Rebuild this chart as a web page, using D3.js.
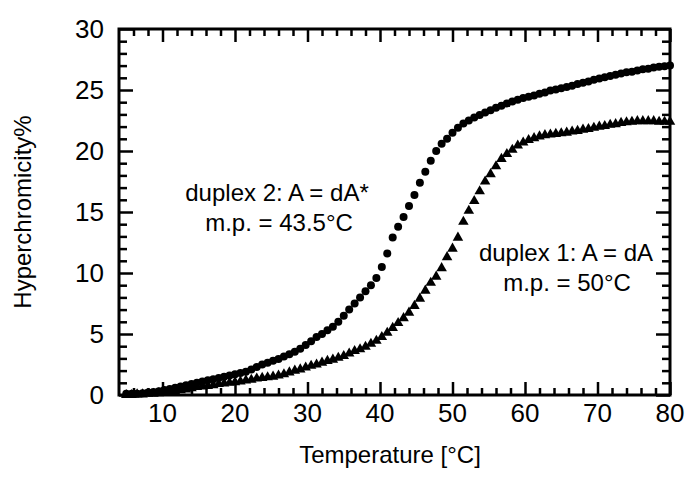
<html lang="en">

<head>
    <meta charset="UTF-8">
    <title>Hyperchromicity vs Temperature</title>
    <!-- Load d3.js -->
    <script src="https://d3js.org/d3.v7.min.js"></script>
    <style>
        body { margin: 0; background: #fff; }
        text { font-family: "Liberation Sans", Arial, Helvetica, sans-serif; fill: #000; }
    </style>
</head>

<body>
    <div id="my_dataviz"></div>

    <script>

        // temperatures (°C) at which both duplexes were sampled
        const temps = [5, 5.75, 6.5, 7.25, 8, 8.75, 9.5, 10.25, 11, 11.75, 12.5, 13.25, 14, 14.75, 15.5, 16.25, 17, 17.75, 18.5, 19.25,
            20, 20.75, 21.5, 22.25, 23, 23.75, 24.5, 25.25, 26, 26.75, 27.5, 28.25, 29, 29.75, 30.5, 31.25, 32, 32.75, 33.5, 34.25,
            35, 35.75, 36.5, 37.25, 38, 38.75, 39.5, 40.25, 41, 41.75, 42.5, 43.25, 44, 44.75, 45.5, 46.25, 47, 47.75, 48.5, 49.25,
            50, 50.75, 51.5, 52.25, 53, 53.75, 54.5, 55.25, 56, 56.75, 57.5, 58.25, 59, 59.75, 60.5, 61.25, 62, 62.75, 63.5, 64.25,
            65, 65.75, 66.5, 67.25, 68, 68.75, 69.5, 70.25, 71, 71.75, 72.5, 73.25, 74, 74.75, 75.5, 76.25, 77, 77.75, 78.5, 79.25, 80];

        // duplex 2 (A = dA*), circles
        const duplex2 = [0.1, 0.1, 0.1, 0.15, 0.2, 0.25, 0.3, 0.4, 0.5, 0.6, 0.7, 0.8, 0.9, 1.0, 1.1, 1.2, 1.3, 1.4, 1.5, 1.6,
            1.7, 1.8, 1.9, 2.1, 2.3, 2.5, 2.65, 2.8, 2.95, 3.15, 3.35, 3.55, 3.8, 4.1, 4.4, 4.75, 5.0, 5.3, 5.6, 6.0,
            6.5, 7.0, 7.5, 8.0, 8.5, 9.0, 9.6, 10.5, 11.6, 12.9, 13.8, 14.6, 15.5, 16.4, 17.4, 18.3, 19.2, 20.0, 20.6, 21.0,
            21.5, 21.9, 22.25, 22.5, 22.75, 22.95, 23.15, 23.35, 23.55, 23.7, 23.9, 24.05, 24.2, 24.35, 24.45, 24.55, 24.7, 24.8, 24.95, 25.05,
            25.15, 25.25, 25.35, 25.5, 25.6, 25.7, 25.85, 25.95, 26.05, 26.15, 26.25, 26.35, 26.45, 26.5, 26.6, 26.7, 26.75, 26.85, 26.9, 26.95, 27.0];

        // duplex 1 (A = dA), triangles
        const duplex1 = [0.0, 0.0, 0.05, 0.05, 0.1, 0.1, 0.15, 0.2, 0.25, 0.3, 0.4, 0.45, 0.55, 0.65, 0.7, 0.75, 0.8, 0.9, 0.95, 1.0,
            1.05, 1.1, 1.2, 1.25, 1.35, 1.4, 1.45, 1.5, 1.6, 1.7, 1.85, 2.0, 2.1, 2.25, 2.4, 2.5, 2.65, 2.8, 2.9, 3.05,
            3.2, 3.4, 3.6, 3.75, 3.95, 4.2, 4.45, 4.75, 5.1, 5.5, 5.9, 6.3, 6.75, 7.3, 7.9, 8.55, 9.2, 9.7, 10.4, 11.3,
            12.0, 12.9, 14.2, 15.1, 15.9, 16.7, 17.5, 18.1, 18.75, 19.35, 19.75, 20.1, 20.45, 20.7, 20.9, 21.05, 21.2, 21.3, 21.35, 21.4,
            21.45, 21.5, 21.6, 21.65, 21.75, 21.8, 21.9, 22.0, 22.05, 22.15, 22.2, 22.3, 22.35, 22.4, 22.45, 22.45, 22.45, 22.45, 22.4, 22.4, 22.4];

        // tick labels
        const xTickLabels = [10, 20, 30, 40, 50, 60, 70, 80];
        const yTickLabels = [0, 5, 10, 15, 20, 25, 30];

        // plot box in page pixels
        const boxLeft = 119, boxRight = 670, boxTop = 29, boxBottom = 395;

        const svg = d3.select("#my_dataviz")
            .append("svg")
            .attr("width", 686)
            .attr("height", 478);

        const x = d3.scaleLinear().domain([4, 80]).range([boxLeft, boxRight]);
        const y = d3.scaleLinear().domain([0, 30]).range([boxBottom, boxTop]);

        // inward ticks on all four sides
        const xMinor = d3.range(6, 80, 2).filter(function (d) { return d % 10 !== 0; });
        const yMinor = d3.range(1, 30, 1).filter(function (d) { return d % 5 !== 0; });

        function tickAxis(axisFn, scale, values, size) {
            return axisFn(scale).tickValues(values).tickSize(size).tickFormat("");
        }

        const axes = [
            [d3.axisBottom, x, xTickLabels, -13, boxBottom, "x"],
            [d3.axisBottom, x, xMinor, -7, boxBottom, "x"],
            [d3.axisTop, x, xTickLabels, -13, boxTop, "x"],
            [d3.axisTop, x, xMinor, -7, boxTop, "x"],
            [d3.axisLeft, y, yTickLabels, -14, boxLeft, "y"],
            [d3.axisLeft, y, yMinor, -8, boxLeft, "y"],
            [d3.axisRight, y, yTickLabels, -14, boxRight, "y"],
            [d3.axisRight, y, yMinor, -8, boxRight, "y"]
        ];
        axes.forEach(function (a) {
            const g = svg.append("g")
                .attr("transform", a[5] === "x" ? "translate(0," + a[4] + ")" : "translate(" + a[4] + ",0)")
                .call(tickAxis(a[0], a[1], a[2], a[3]));
            g.select(".domain").remove();
            g.selectAll("line").attr("stroke", "#000").attr("stroke-width", 2.5);
        });

        // frame
        svg.append("rect")
            .attr("x", boxLeft)
            .attr("y", boxTop)
            .attr("width", boxRight - boxLeft)
            .attr("height", boxBottom - boxTop)
            .attr("fill", "none")
            .attr("stroke", "#000")
            .attr("stroke-width", 3);

        // tick labels
        svg.append("g")
            .selectAll("text")
            .data(xTickLabels)
            .enter()
            .append("text")
            .attr("x", function (d) { return x(d); })
            .attr("y", 422)
            .attr("text-anchor", "middle")
            .style("font-size", "26px")
            .text(function (d) { return d; });

        svg.append("g")
            .selectAll("text")
            .data(yTickLabels)
            .enter()
            .append("text")
            .attr("x", 104)
            .attr("y", function (d) { return y(d) + 9; })
            .attr("text-anchor", "end")
            .style("font-size", "26px")
            .text(function (d) { return d; });

        // axis titles
        svg.append("text")
            .attr("x", 390)
            .attr("y", 463)
            .attr("text-anchor", "middle")
            .style("font-size", "24px")
            .text("Temperature [°C]");

        svg.append("text")
            .attr("transform", "translate(31,212) rotate(-90)")
            .attr("text-anchor", "middle")
            .style("font-size", "24px")
            .text("Hyperchromicity%");

        // data points
        const pts1 = temps.map(function (t, i) { return [t, duplex1[i]]; });
        const pts2 = temps.map(function (t, i) { return [t, duplex2[i]]; });

        svg.append("g")
            .selectAll("path")
            .data(pts1)
            .enter()
            .append("path")
            .attr("d", d3.symbol().type(d3.symbolTriangle).size(48))
            .attr("transform", function (d) { return "translate(" + x(d[0]) + "," + y(d[1]) + ")"; })
            .attr("fill", "#000");

        svg.append("g")
            .selectAll("circle")
            .data(pts2)
            .enter()
            .append("circle")
            .attr("cx", function (d) { return x(d[0]); })
            .attr("cy", function (d) { return y(d[1]); })
            .attr("r", 4)
            .attr("fill", "#000");

        // annotations
        const notes = [
            [277, 201, "duplex 2: A = dA*"],
            [279, 231, "m.p. = 43.5°C"],
            [566, 261, "duplex 1: A = dA"],
            [567, 291, "m.p. = 50°C"]
        ];
        svg.append("g")
            .selectAll("text")
            .data(notes)
            .enter()
            .append("text")
            .attr("x", function (d) { return d[0]; })
            .attr("y", function (d) { return d[1]; })
            .attr("text-anchor", "middle")
            .style("font-size", "24px")
            .text(function (d) { return d[2]; });

    </script>

</body>

</html>
